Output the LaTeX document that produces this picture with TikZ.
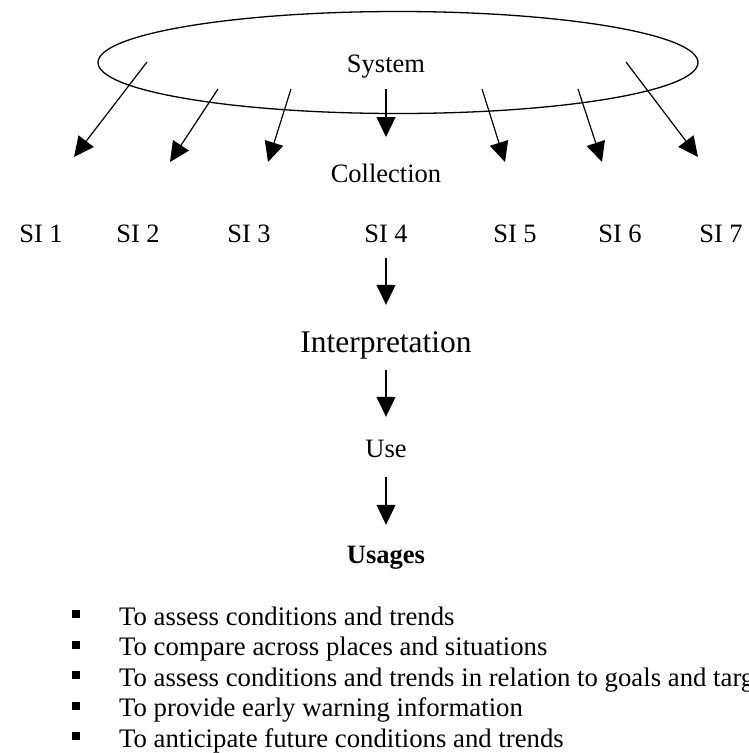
\documentclass[tikz,border=0pt]{standalone}
\usepackage{fontspec}
\setmainfont{Liberation Serif}
\usetikzlibrary{arrows.meta}
\begin{document}
\begin{tikzpicture}[x=1pt,y=-1pt,
  arr/.style={-{Triangle[length=20pt,width=19pt]}, line width=1.2pt},
  lbl/.style={inner sep=0pt, anchor=base, font=\fontsize{26.5}{30.5}\selectfont, text height=18pt, text depth=6pt},
  big/.style={lbl, font=\fontsize{31.5}{36}\selectfont, text height=22pt, text depth=7pt},
  itemtext/.style={inner sep=0pt, anchor=base west, font=\fontsize{26.75}{30.5}\selectfont},
  bulletbox/.style={fill=black, inner sep=0pt, minimum size=8pt}]
\useasboundingbox (0,0) rectangle (749,753);
\clip (0,0) rectangle (749,753);
% system ellipse
\draw[line width=1.3pt] (398,62.5) ellipse [x radius=300, y radius=51];
\node[lbl] (system) at (386,72) {System};
\node[lbl] (collection) at (386,182) {Collection};
% SI labels
\node[lbl] (si1) at (41,242) {SI 1};
\node[lbl] (si2) at (138,242) {SI 2};
\node[lbl] (si3) at (249,242) {SI 3};
\node[lbl] (si4) at (386,242) {SI 4};
\node[lbl] (si5) at (515,242) {SI 5};
\node[lbl] (si6) at (620,242) {SI 6};
\node[lbl] (si7) at (721,242) {SI 7};
% arrows from the system
\coordinate (a1s) at (147,62);  \coordinate (a1t) at (74,157);
\coordinate (a2s) at (218,89);  \coordinate (a2t) at (170,162);
\coordinate (a3s) at (291,89);  \coordinate (a3t) at (268,162);
\coordinate (a4s) at (386,89);  \coordinate (a4t) at (386,137);
\coordinate (a5s) at (482,89);  \coordinate (a5t) at (505,162);
\coordinate (a6s) at (578,89);  \coordinate (a6t) at (602,162);
\coordinate (a7s) at (626,62);  \coordinate (a7t) at (698,157);
\foreach \i in {1,...,7} \draw[arr] (a\i s) -- (a\i t);
% chain
\node[big] (interp) at (386,352) {Interpretation};
\node[lbl] (use) at (386,457) {Use};
\node[lbl, font=\fontsize{26.5}{30.5}\selectfont\bfseries] (usages) at (386,563) {Usages};
\draw[arr, shorten <=10pt, shorten >=25pt] (si4) -- (interp);
\draw[arr, shorten <=11pt, shorten >=22pt] (interp) -- (use);
\draw[arr, shorten <=14pt, shorten >=20pt] (use) -- (usages);
% list
\node[itemtext] (l1) at (119,625) {To assess conditions and trends};
\node[itemtext] (l2) at (119,655.5) {To compare across places and situations};
\node[itemtext] (l3) at (119,686) {To assess conditions and trends in relation to goals and targets};
\node[itemtext] (l4) at (119,716.5) {To provide early warning information};
\node[itemtext] (l5) at (119,747) {To anticipate future conditions and trends};
\node[bulletbox] (b1) at (75.5,614) {};
\node[bulletbox] (b2) at (75.5,644.5) {};
\node[bulletbox] (b3) at (75.5,675) {};
\node[bulletbox] (b4) at (75.5,705.5) {};
\node[bulletbox] (b5) at (75.5,736) {};
\end{tikzpicture}
\end{document}
